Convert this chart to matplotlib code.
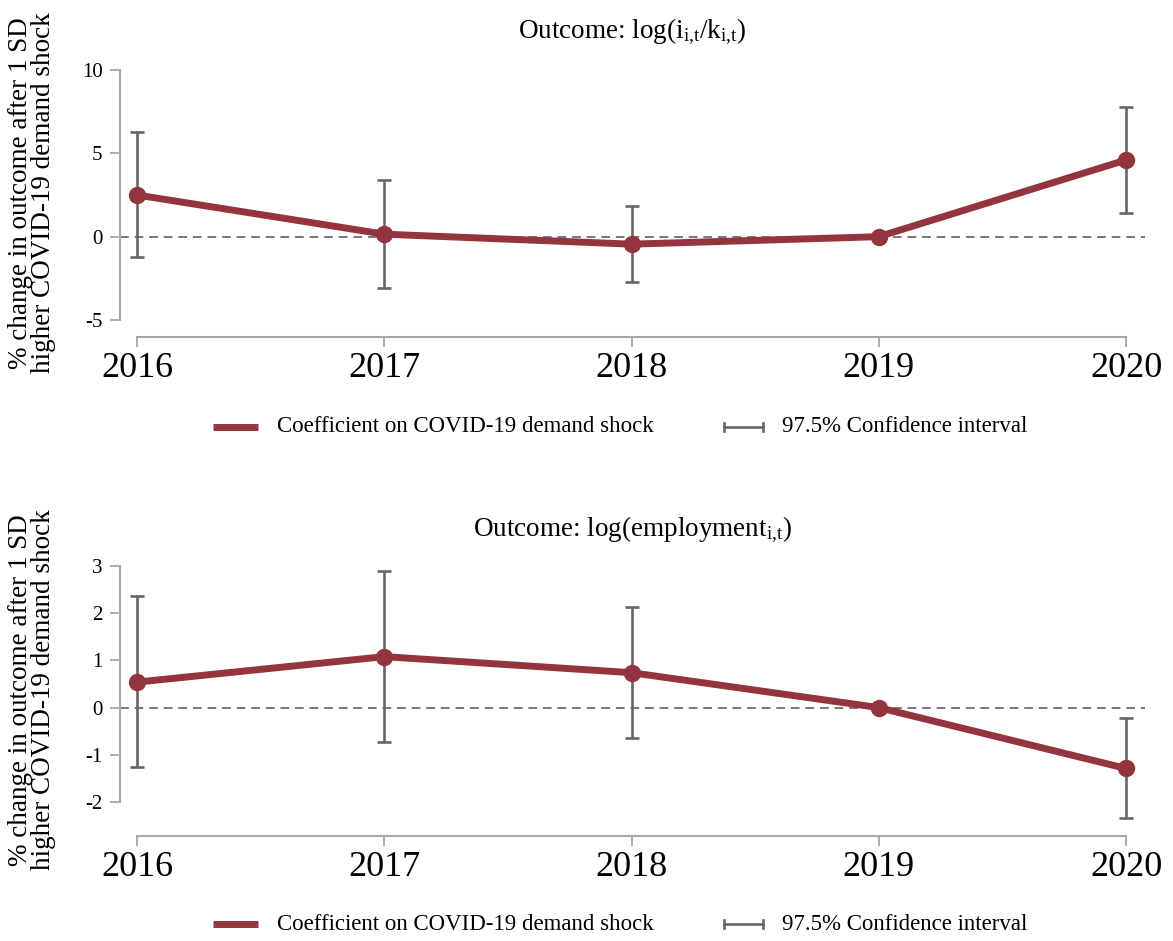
import numpy as np
import matplotlib
matplotlib.use("Agg")
import matplotlib.pyplot as plt
from matplotlib.lines import Line2D

plt.rcParams['font.family'] = ['Liberation Serif', 'DejaVu Serif']
plt.rcParams['mathtext.fontset'] = 'custom'
plt.rcParams['mathtext.rm'] = 'Liberation Serif'
plt.rcParams['mathtext.it'] = 'Liberation Serif:italic'

# --- data ---------------------------------------------------------------
years = [2016, 2017, 2018, 2019, 2020]

# investment rate log(i/k)
inv_coef = [2.5, 0.15, -0.45, 0.0, 4.6]
inv_lo = [-1.25, -3.08, -2.72, None, 1.42]
inv_hi = [6.28, 3.38, 1.86, None, 7.78]

# log employment
emp_coef = [0.54, 1.08, 0.74, 0.0, -1.29]
emp_lo = [-1.25, -0.72, -0.65, None, -2.33]
emp_hi = [2.36, 2.90, 2.14, None, -0.22]

inv_yticks = [-5, 0, 5, 10]
emp_yticks = [-2, -1, 0, 1, 2, 3]

titles = [r"Outcome: log(i$_\mathrm{i{,}t}$/k$_\mathrm{i{,}t}$)",
          r"Outcome: log(employment$_\mathrm{i{,}t}$)"]
ylabel = "% change in outcome after 1 SD\nhigher COVID-19 demand shock"
legend_labels = ["Coefficient on COVID-19 demand shock", "97.5% Confidence interval"]

RED = "#93343e"
GREY = "#666666"
AXGREY = "#a8a8a8"

W, H = 1173, 941
fig = plt.figure(figsize=(W / 100, H / 100), dpi=100)


def px_axes(left, top, right, bottom):
    return fig.add_axes([left / W, 1 - bottom / H, (right - left) / W, (bottom - top) / H])


def fy(py):
    return 1 - py / H


def panel(box, coef, lo, hi, yticks, ylim, spine_gap_px, title, title_base, legend_y, label_cy):
    ax = px_axes(*box)
    x = np.array(years, dtype=float)
    c = np.array(coef, dtype=float)
    has_ci = np.array([v is not None for v in lo])
    l = np.array([v for v in lo if v is not None], dtype=float)
    h = np.array([v for v in hi if v is not None], dtype=float)

    ax.axhline(0, color="#777777", lw=1.4, ls=(0, (4.5, 3)), zorder=1)
    ax.errorbar(x[has_ci], c[has_ci], yerr=[c[has_ci] - l, h - c[has_ci]], fmt="none",
                ecolor=GREY, elinewidth=1.9, capsize=5, capthick=1.9, zorder=2, clip_on=False)
    ax.plot(x, c, color=RED, lw=5, marker="o", markersize=11.5, zorder=3, clip_on=False,
            solid_capstyle="round")

    for s in ["top", "right"]:
        ax.spines[s].set_visible(False)
    for s in ["left", "bottom"]:
        ax.spines[s].set_color(AXGREY)
        ax.spines[s].set_linewidth(1.5)
    ax.spines["bottom"].set_position(("outward", spine_gap_px * 0.72))

    # year positions: 2016 at x=137px, 2020 at x=1126px
    per = (1126 - 137) / 4
    ax.set_xlim(2016 - (137 - box[0]) / per, 2020 + (box[2] - 1126) / per)
    ax.set_ylim(*ylim)
    ax.set_xticks(years)
    ax.set_xticklabels([str(y) for y in years])
    ax.set_yticks(yticks)
    ax.set_yticklabels([str(t) for t in yticks])
    ax.spines["bottom"].set_bounds(2016, 2020)
    ax.tick_params(axis="y", length=7.5, width=1.3, color=AXGREY, pad=5, labelsize=15)
    ax.tick_params(axis="x", length=7.5, width=1.3, color=AXGREY, pad=3, labelsize=26)
    ax.set_facecolor("none")

    fig.text(632.5 / W, fy(title_base), title, fontsize=19.5, ha="center", va="baseline")
    fig.text(32 / W, fy(label_cy), ylabel, fontsize=19.5, rotation=90, ha="center", va="center",
             multialignment="center", linespacing=0.92)

    # legend
    fig.add_artist(Line2D([213 / W, 258 / W], [fy(legend_y)] * 2, color=RED, lw=5,
                          solid_capstyle="butt", transform=fig.transFigure))
    fig.text(277 / W, fy(legend_y), legend_labels[0], fontsize=16.5, ha="left", va="center")
    fig.add_artist(Line2D([724 / W, 763 / W], [fy(legend_y)] * 2, color=GREY, lw=1.9,
                          transform=fig.transFigure))
    for xe in (724, 763):
        fig.add_artist(Line2D([xe / W] * 2, [fy(legend_y - 4), fy(legend_y + 4)], color=GREY,
                              lw=1.9, transform=fig.transFigure))
    fig.text(782 / W, fy(legend_y), legend_labels[1], fontsize=16.5, ha="left", va="center")
    return ax


panel((120, 70, 1145, 320), inv_coef, inv_lo, inv_hi, inv_yticks, (-5, 10), 17,
      titles[0], 38, 427, 193)
panel((120, 566, 1145, 802), emp_coef, emp_lo, emp_hi, emp_yticks, (-2, 3), 34,
      titles[1], 536, 924, 690)

fig.savefig("out.png", dpi=100)
